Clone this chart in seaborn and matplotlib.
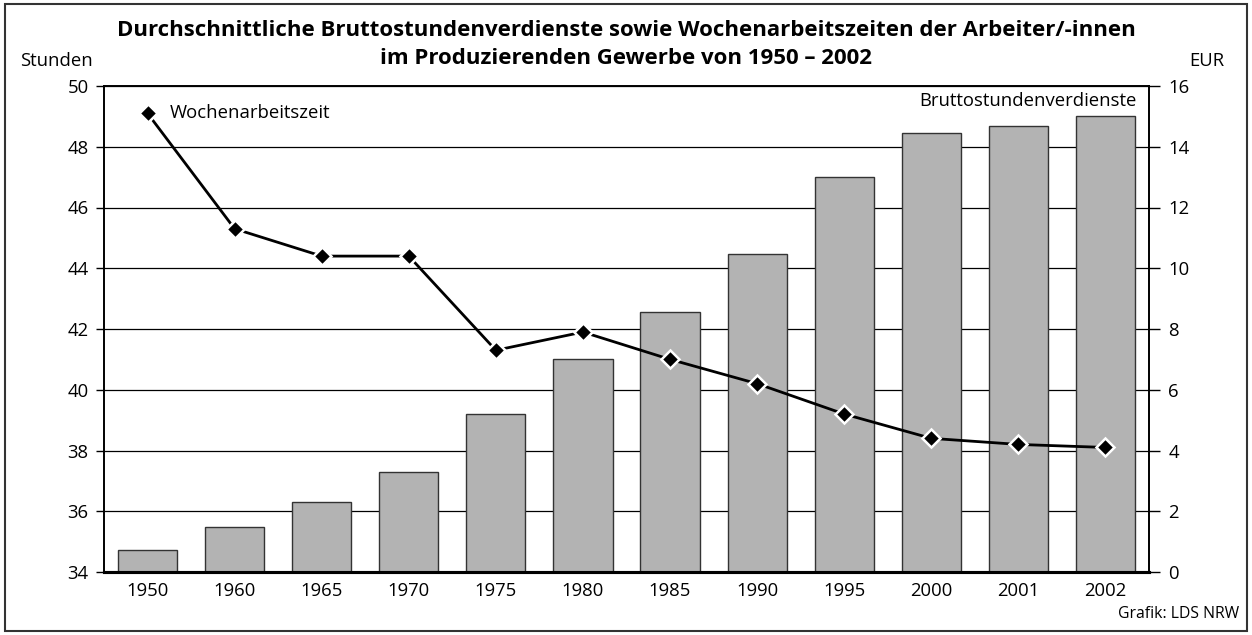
import matplotlib
matplotlib.use("Agg")
import matplotlib.pyplot as plt
import seaborn as sns
import pandas as pd
from matplotlib.patches import Rectangle

# Data
years = ["1950", "1960", "1965", "1970", "1975", "1980", "1985", "1990", "1995", "2000", "2001", "2002"]
earnings_eur = [0.72, 1.48, 2.30, 3.29, 5.20, 7.01, 8.56, 10.47, 13.00, 14.45, 14.68, 15.01]
weekly_hours = [49.1, 45.3, 44.4, 44.4, 41.3, 41.9, 41.0, 40.2, 39.2, 38.4, 38.2, 38.1]

df = pd.DataFrame({"Jahr": years, "EUR": earnings_eur, "Stunden": weekly_hours})

sns.set_style("white")
plt.rcParams["font.family"] = ["Open Sans", "DejaVu Sans"]
plt.rcParams["text.color"] = "black"
plt.rcParams["xtick.color"] = "black"
plt.rcParams["ytick.color"] = "black"

FS = 13.3

fig = plt.figure(figsize=(12.52, 6.35), dpi=100)
ax_bar = fig.add_axes([104 / 1252, 1 - 572 / 635, 1045 / 1252, 486 / 635])
ax = ax_bar.twinx()

# bars on the EUR (right) axis, behind the line
sns.barplot(data=df, x="Jahr", y="EUR", ax=ax_bar, color="#b3b3b3", width=0.68,
            edgecolor="#333333", linewidth=1.0, saturation=1)
ax_bar.set_ylim(0, 16)
ax_bar.set_yticks(range(0, 17, 2))
ax_bar.set_axisbelow(True)
ax_bar.yaxis.grid(True, color="black", linewidth=0.9)
ax_bar.yaxis.tick_right()
ax_bar.yaxis.set_label_position("right")
ax_bar.tick_params(axis="y", direction="out", length=8, width=1, labelsize=FS, pad=6, right=True, left=False,
                   labelright=True, labelleft=False)
ax_bar.tick_params(axis="x", length=0, labelsize=FS, pad=7)
ax_bar.set_xlabel("")
ax_bar.set_ylabel("")
ax_bar.set_xlim(-0.5, 11.5)

# line on the hours (left) axis
ax.set_zorder(ax_bar.get_zorder() + 1)
ax.patch.set_visible(False)
sns.lineplot(data=df, x="Jahr", y="Stunden", ax=ax, color="black", linewidth=2, sort=False,
             marker="D", markersize=9.5, markeredgecolor="white", markeredgewidth=1.8, zorder=5)
ax.yaxis.tick_left()
ax.yaxis.set_label_position("left")
ax.set_ylim(34, 50)
ax.set_yticks(range(34, 51, 2))
ax.tick_params(axis="y", direction="out", length=6, width=1, labelsize=FS, pad=5, left=True, right=False,
               labelleft=True, labelright=False)
ax.set_xlabel("")
ax.set_ylabel("")
ax.set_xlim(-0.5, 11.5)

for a in (ax, ax_bar):
    for side in ("left", "right", "top"):
        a.spines[side].set_color("black")
        a.spines[side].set_linewidth(1.2)
    a.spines["bottom"].set_color("black")
    a.spines["bottom"].set_linewidth(2.2)

# texts
fig.text(0.5, 1 - 31 / 635, "Durchschnittliche Bruttostundenverdienste sowie Wochenarbeitszeiten der Arbeiter/-innen",
         ha="center", va="center", fontsize=16, fontweight="bold")
fig.text(0.5, 1 - 59 / 635, "im Produzierenden Gewerbe von 1950 – 2002",
         ha="center", va="center", fontsize=16, fontweight="bold")
fig.text(56 / 1252, 1 - 61 / 635, "Stunden", ha="center", va="center", fontsize=FS)
fig.text(1207 / 1252, 1 - 61 / 635, "EUR", ha="center", va="center", fontsize=FS)
fig.text(170 / 1252, 1 - 113 / 635, "Wochenarbeitszeit", ha="left", va="center", fontsize=FS)
fig.text(1137 / 1252, 1 - 101 / 635, "Bruttostundenverdienste", ha="right", va="center", fontsize=FS)
fig.text(1239 / 1252, 1 - 614 / 635, "Grafik: LDS NRW", ha="right", va="center", fontsize=11.3)

# outer frame
fig.patches.append(Rectangle((5 / 1252, 4 / 635), 1242 / 1252, 627 / 635, transform=fig.transFigure,
                             fill=False, edgecolor="#333333", linewidth=1.5))

fig.savefig("out.png", dpi=100)
